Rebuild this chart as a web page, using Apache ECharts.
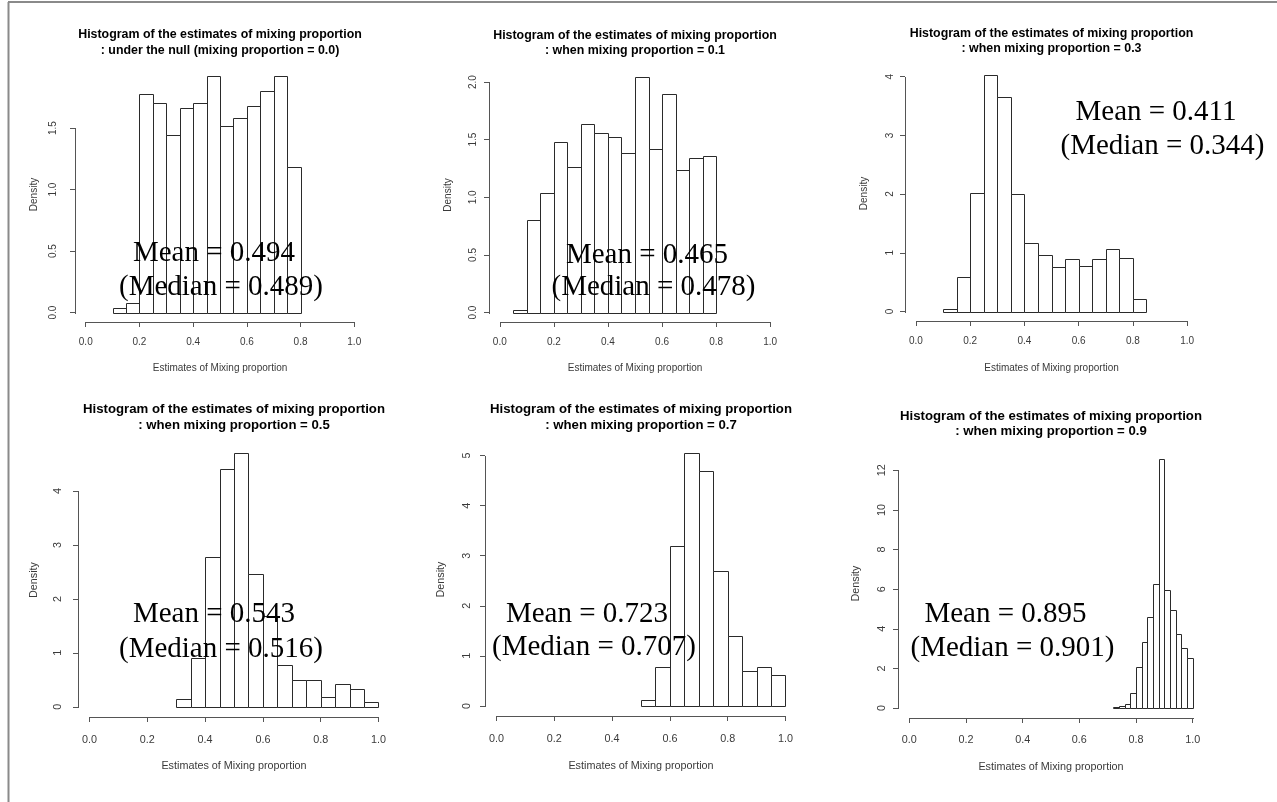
<!DOCTYPE html>
<html><head><meta charset="utf-8">
<script src="https://cdn.jsdelivr.net/npm/echarts@6/dist/echarts.min.js"></script>
<style>html,body{margin:0;padding:0;background:#fff}#c{width:1277px;height:802px}</style>
</head><body><div id="c"></div><script>
// ---------------- data ----------------
const xTicks = [0, 0.2, 0.4, 0.6, 0.8, 1.0];

const breaks00 = [0.10,0.15,0.20,0.25,0.30,0.35,0.40,0.45,0.50,0.55,0.60,0.65,0.70,0.75,0.80];
const density00 = [0.04,0.08,1.78,1.70,1.44,1.66,1.70,1.92,1.52,1.58,1.68,1.80,1.92,1.18];
const yTicks00 = [0, 0.5, 1.0, 1.5];

const breaks01 = [0.05,0.10,0.15,0.20,0.25,0.30,0.35,0.40,0.45,0.50,0.55,0.60,0.65,0.70,0.75,0.80];
const density01 = [0.02,0.80,1.04,1.48,1.26,1.64,1.56,1.52,1.38,2.04,1.42,1.90,1.24,1.34,1.36];
const yTicks01 = [0, 0.5, 1.0, 1.5, 2.0];

const breaks03 = [0.10,0.15,0.20,0.25,0.30,0.35,0.40,0.45,0.50,0.55,0.60,0.65,0.70,0.75,0.80,0.85];
const density03 = [0.04,0.58,2.02,4.02,3.66,2.00,1.16,0.96,0.76,0.90,0.78,0.90,1.06,0.92,0.22];
const yTicks03 = [0, 1, 2, 3, 4];

const breaks05 = [0.30,0.35,0.40,0.45,0.50,0.55,0.60,0.65,0.70,0.75,0.80,0.85,0.90,0.95,1.00];
const density05 = [0.15,0.90,2.77,4.40,4.70,2.47,1.68,0.77,0.50,0.50,0.19,0.43,0.33,0.09];
const yTicks05 = [0, 1, 2, 3, 4];

const breaks07 = [0.50,0.55,0.60,0.65,0.70,0.75,0.80,0.85,0.90,0.95,1.00];
const density07 = [0.12,0.78,3.19,5.05,4.69,2.70,1.40,0.70,0.78,0.62];
const yTicks07 = [0, 1, 2, 3, 4, 5];

const breaks09 = [0.72,0.74,0.76,0.78,0.80,0.82,0.84,0.86,0.88,0.90,0.92,0.94,0.96,0.98,1.00];
const density09 = [0.05,0.12,0.22,0.76,2.06,3.32,4.58,6.25,12.57,5.97,4.97,3.76,3.02,2.53];
const yTicks09 = [0, 2, 4, 6, 8, 10, 12];

const titleLine1 = 'Histogram of the estimates of mixing proportion';
const titleLine2 = [
  ': under the null (mixing proportion = 0.0)',
  ': when mixing proportion = 0.1',
  ': when mixing proportion = 0.3',
  ': when mixing proportion = 0.5',
  ': when mixing proportion = 0.7',
  ': when mixing proportion = 0.9'
];
const meanLabels = ['Mean = 0.494','Mean = 0.465','Mean = 0.411','Mean = 0.543','Mean = 0.723','Mean = 0.895'];
const medianLabels = ['(Median = 0.489)','(Median = 0.478)','(Median = 0.344)','(Median = 0.516)','(Median = 0.707)','(Median = 0.901)'];
const xName = 'Estimates of Mixing proportion';
const yName = 'Density';

// ---------------- layout (pixels) ----------------
const panels = [
  {breaks: breaks00, dens: density00, yTicks: yTicks00, dec: 1,
   grid: {left: 75, top: 67, width: 290, height: 255}, fs: 10, tfs: 12.4,
   xm: 15, xg: 41, ym: 17, yg: 36,
   t1y: 35, t2y: 51, meanPos: [214, 253], medPos: [221, 287]},
  {breaks: breaks01, dens: density01, yTicks: yTicks01, dec: 1,
   grid: {left: 489, top: 68, width: 292, height: 254}, fs: 10, tfs: 12.4,
   xm: 15, xg: 41, ym: 11, yg: 36,
   t1y: 36, t2y: 51, meanPos: [647, 255], medPos: [653.5, 287]},
  {breaks: breaks03, dens: density03, yTicks: yTicks03, dec: 0,
   grid: {left: 905, top: 66, width: 293, height: 255}, fs: 10, tfs: 12.4,
   xm: 15, xg: 42, ym: 10, yg: 36,
   t1y: 34, t2y: 49, meanPos: [1156, 112], medPos: [1162.5, 146.5]},
  {breaks: breaks05, dens: density05, yTicks: yTicks05, dec: 0,
   grid: {left: 78, top: 443, width: 312, height: 274}, fs: 10.8, tfs: 13.2,
   xm: 18, xg: 44, ym: 14, yg: 38,
   t1y: 409, t2y: 425, meanPos: [214, 614], medPos: [221, 649]},
  {breaks: breaks07, dens: density07, yTicks: yTicks07, dec: 0,
   grid: {left: 485, top: 443, width: 312, height: 273}, fs: 10.8, tfs: 13.2,
   xm: 18, xg: 45, ym: 12, yg: 38,
   t1y: 409, t2y: 425, meanPos: [587, 614], medPos: [594, 647]},
  {breaks: breaks09, dens: density09, yTicks: yTicks09, dec: 0,
   grid: {left: 898, top: 449, width: 306, height: 269}, fs: 10.8, tfs: 13.2,
   xm: 17, xg: 44, ym: 10, yg: 36,
   t1y: 416, t2y: 431.5, meanPos: [1005.5, 614], medPos: [1012.5, 648]}
];

const AX = '#555';
const TXT = '#3a3a3a';
const crisp = v => Math.round(v) + 0.5;

const grids = [], xAxes = [], yAxes = [], series = [], graphics = [];

panels.forEach((p, i) => {
  const maxD = Math.max(...p.dens);
  const yMin = -0.04 * maxD, yMax = 1.04 * maxD;
  const xMin = -0.04, xMax = 1.04;
  const lastTick = p.yTicks[p.yTicks.length - 1];

  grids.push(Object.assign({outerBoundsMode: 'none', containLabel: false}, p.grid));

  xAxes.push({
    gridIndex: i, type: 'value', min: xMin, max: xMax, position: 'bottom',
    axisLine: {show: false, onZero: false},
    splitLine: {show: false},
    axisTick: {show: true, customValues: xTicks, length: 5, lineStyle: {color: AX, width: 1}},
    axisLabel: {customValues: xTicks, formatter: v => v.toFixed(1), margin: p.xm,
      fontFamily: 'Liberation Sans, Arial, sans-serif', fontSize: p.fs, color: TXT},
    name: xName, nameLocation: 'middle', nameGap: p.xg,
    nameTextStyle: {fontFamily: 'Liberation Sans, Arial, sans-serif', fontSize: p.fs, color: TXT}
  });

  yAxes.push({
    gridIndex: i, type: 'value', min: yMin, max: yMax, position: 'left',
    axisLine: {show: false, onZero: false},
    splitLine: {show: false},
    axisTick: {show: true, customValues: p.yTicks, length: 5, lineStyle: {color: AX, width: 1}},
    axisLabel: {customValues: p.yTicks, rotate: 90, formatter: v => v.toFixed(p.dec), margin: p.ym,
      fontFamily: 'Liberation Sans, Arial, sans-serif', fontSize: p.fs, color: TXT},
    name: yName, nameLocation: 'middle', nameGap: p.yg,
    nameTextStyle: {fontFamily: 'Liberation Sans, Arial, sans-serif', fontSize: p.fs, color: TXT}
  });

  // histogram bars
  series.push({
    type: 'custom', xAxisIndex: i, yAxisIndex: i, silent: true, clip: false,
    data: p.dens.map((d, j) => [p.breaks[j], p.breaks[j + 1], d]),
    renderItem: (params, api) => {
      const a = api.coord([api.value(0), 0]);
      const b = api.coord([api.value(1), api.value(2)]);
      const x0 = crisp(a[0]), x1 = crisp(b[0]), y0 = crisp(a[1]), y1 = crisp(b[1]);
      return {type: 'rect', shape: {x: x0, y: y1, width: x1 - x0, height: y0 - y1},
        style: {fill: '#fff', stroke: '#2a2a2a', lineWidth: 1}};
    }
  });

  // R-style axis lines (from first to last tick)
  series.push({
    type: 'custom', xAxisIndex: i, yAxisIndex: i, silent: true, clip: false,
    data: [[0]],
    renderItem: (params, api) => {
      const xa = api.coord([xTicks[0], yMin]);
      const xb = api.coord([xTicks[xTicks.length - 1], yMin]);
      const ya = api.coord([xMin, p.yTicks[0]]);
      const yb = api.coord([xMin, lastTick]);
      return {type: 'group', children: [
        {type: 'line', shape: {x1: Math.round(xa[0]), y1: crisp(xa[1]), x2: Math.round(xb[0]) + 1, y2: crisp(xb[1])},
          style: {stroke: AX, lineWidth: 1}},
        {type: 'line', shape: {x1: crisp(ya[0]), y1: Math.round(ya[1]) + 1, x2: crisp(yb[0]), y2: Math.round(yb[1])},
          style: {stroke: AX, lineWidth: 1}}
      ]};
    }
  });

  const cx = p.grid.left + p.grid.width / 2;
  graphics.push({type: 'text', x: cx, y: p.t1y, silent: true,
    style: {text: titleLine1, align: 'center', verticalAlign: 'middle', fill: '#000',
      font: 'bold ' + p.tfs + 'px "Liberation Sans", Arial, sans-serif'}});
  graphics.push({type: 'text', x: cx, y: p.t2y, silent: true,
    style: {text: titleLine2[i], align: 'center', verticalAlign: 'middle', fill: '#000',
      font: 'bold ' + p.tfs + 'px "Liberation Sans", Arial, sans-serif'}});
  graphics.push({type: 'text', x: p.meanPos[0], y: p.meanPos[1], silent: true, z: 100,
    style: {text: meanLabels[i], align: 'center', verticalAlign: 'middle', fill: '#000',
      font: '29px "Liberation Serif", "Times New Roman", serif'}});
  graphics.push({type: 'text', x: p.medPos[0], y: p.medPos[1], silent: true, z: 100,
    style: {text: medianLabels[i], align: 'center', verticalAlign: 'middle', fill: '#000',
      font: '29px "Liberation Serif", "Times New Roman", serif'}});
});

// window frame
graphics.push({type: 'line', silent: true, shape: {x1: 8, y1: 2, x2: 1277, y2: 2}, style: {stroke: '#8a8a8a', lineWidth: 2}});
graphics.push({type: 'line', silent: true, shape: {x1: 8.5, y1: 2, x2: 8.5, y2: 802}, style: {stroke: '#8a8a8a', lineWidth: 2}});

const chart = echarts.init(document.getElementById('c'), null, {renderer: 'canvas'});
chart.setOption({
  animation: false,
  backgroundColor: '#fff',
  grid: grids, xAxis: xAxes, yAxis: yAxes, series: series, graphic: graphics
});
</script></body></html>
